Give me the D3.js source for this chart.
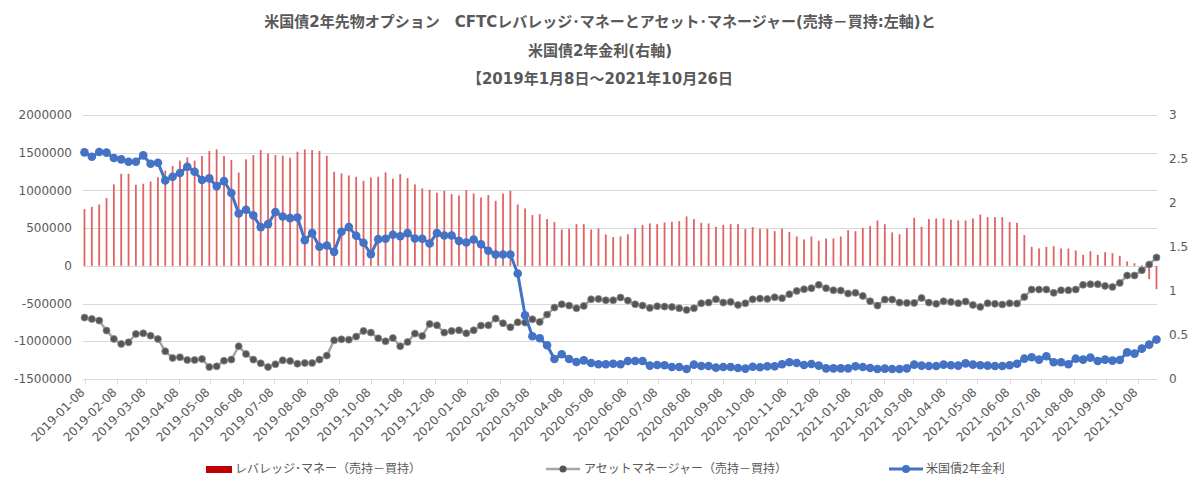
<!DOCTYPE html>
<html>
<head>
<meta charset="utf-8">
<script src="https://cdn.jsdelivr.net/npm/d3@7"></script>
<style>
  body { margin: 0; background: #fff; }
  text { fill: #595959; }
</style>
</head>
<body>
<div id="chart"></div>
<script>
// weekly dates from 2019-01-08 to 2021-10-26 (147 weeks)
const startDate = new Date(2019, 0, 8);
const weekCount = 147;
const dates = d3.range(weekCount).map(i => d3.timeDay.offset(startDate, i * 7));

const tickLabels = [
    '2019-01-08', '2019-02-08', '2019-03-08', '2019-04-08', '2019-05-08', '2019-06-08',
    '2019-07-08', '2019-08-08', '2019-09-08', '2019-10-08', '2019-11-08', '2019-12-08',
    '2020-01-08', '2020-02-08', '2020-03-08', '2020-04-08', '2020-05-08', '2020-06-08',
    '2020-07-08', '2020-08-08', '2020-09-08', '2020-10-08', '2020-11-08', '2020-12-08',
    '2021-01-08', '2021-02-08', '2021-03-08', '2021-04-08', '2021-05-08', '2021-06-08',
    '2021-07-08', '2021-08-08', '2021-09-08', '2021-10-08'
];

// レバレッジ・マネー (売持-買持)
const leveraged = [
    752000, 783000, 814000, 898000, 1080000, 1221000, 1221000, 1075000, 1088000, 1118000,
    1175000, 1263000, 1325000, 1395000, 1439000, 1395000, 1456000, 1522000, 1544000, 1456000,
    1404000, 1237000, 1412000, 1469000, 1535000, 1491000, 1469000, 1461000, 1434000, 1513000,
    1544000, 1535000, 1522000, 1460000, 1248000, 1226000, 1199000, 1181000, 1128000, 1173000,
    1181000, 1239000, 1155000, 1217000, 1164000, 1080000, 1027000, 1009000, 969000, 996000,
    951000, 934000, 1004000, 960000, 907000, 938000, 863000, 960000, 996000, 814000,
    761000, 673000, 686000, 620000, 580000, 482000, 491000, 553000, 553000, 482000,
    496000, 416000, 381000, 389000, 420000, 500000, 544000, 562000, 553000, 575000,
    584000, 593000, 655000, 620000, 571000, 562000, 518000, 544000, 553000, 553000,
    487000, 513000, 491000, 491000, 460000, 496000, 451000, 389000, 350000, 389000,
    332000, 363000, 363000, 389000, 473000, 460000, 504000, 527000, 602000, 553000,
    443000, 420000, 500000, 637000, 518000, 620000, 628000, 628000, 611000, 602000,
    602000, 628000, 681000, 646000, 646000, 646000, 580000, 571000, 407000, 252000,
    230000, 252000, 261000, 230000, 230000, 204000, 146000, 195000, 146000, 181000,
    168000, 133000, 58000, 35000, 10000, -177000, -310000
];

// アセットマネージャー (売持-買持)
const assetManager = [
    -686000, -704000, -726000, -858000, -969000, -1035000, -1013000, -903000, -894000, -925000,
    -969000, -1133000, -1221000, -1212000, -1248000, -1248000, -1235000, -1341000, -1332000, -1257000,
    -1243000, -1066000, -1168000, -1243000, -1292000, -1341000, -1305000, -1252000, -1261000, -1297000,
    -1288000, -1288000, -1243000, -1190000, -987000, -974000, -978000, -938000, -863000, -885000,
    -960000, -1000000, -956000, -1066000, -1009000, -898000, -929000, -770000, -788000, -885000,
    -863000, -854000, -894000, -854000, -792000, -788000, -699000, -761000, -814000, -748000,
    -752000, -708000, -743000, -646000, -553000, -509000, -527000, -562000, -531000, -443000,
    -438000, -456000, -456000, -420000, -460000, -509000, -527000, -558000, -535000, -540000,
    -544000, -562000, -584000, -562000, -496000, -487000, -443000, -487000, -478000, -518000,
    -496000, -443000, -434000, -438000, -416000, -429000, -376000, -332000, -310000, -296000,
    -252000, -296000, -323000, -327000, -367000, -358000, -398000, -469000, -527000, -447000,
    -447000, -487000, -491000, -491000, -425000, -487000, -504000, -469000, -478000, -496000,
    -473000, -518000, -544000, -496000, -504000, -513000, -496000, -500000, -412000, -314000,
    -314000, -314000, -358000, -323000, -323000, -314000, -252000, -243000, -243000, -266000,
    -279000, -226000, -128000, -128000, -58000, 18000, 111000
];

// 米国債2年金利
const yield2y = [
    2.575, 2.526, 2.579, 2.572, 2.511, 2.496, 2.469, 2.469, 2.541, 2.446,
    2.458, 2.257, 2.299, 2.340, 2.412, 2.355, 2.261, 2.280, 2.192, 2.249,
    2.113, 1.881, 1.923, 1.859, 1.726, 1.760, 1.897, 1.847, 1.828, 1.836,
    1.578, 1.658, 1.502, 1.517, 1.445, 1.673, 1.726, 1.627, 1.548, 1.419,
    1.589, 1.593, 1.639, 1.623, 1.658, 1.597, 1.593, 1.540, 1.658, 1.631,
    1.631, 1.570, 1.551, 1.585, 1.532, 1.457, 1.415, 1.415, 1.415, 1.199,
    0.724, 0.485, 0.463, 0.383, 0.228, 0.281, 0.228, 0.193, 0.212, 0.182,
    0.167, 0.167, 0.174, 0.167, 0.205, 0.205, 0.205, 0.152, 0.159, 0.156,
    0.137, 0.137, 0.114, 0.163, 0.148, 0.148, 0.129, 0.137, 0.137, 0.125,
    0.118, 0.140, 0.133, 0.144, 0.144, 0.167, 0.190, 0.182, 0.159, 0.171,
    0.152, 0.121, 0.121, 0.121, 0.121, 0.144, 0.137, 0.125, 0.114, 0.118,
    0.114, 0.114, 0.121, 0.163, 0.152, 0.148, 0.148, 0.163, 0.156, 0.152,
    0.178, 0.163, 0.156, 0.152, 0.148, 0.148, 0.156, 0.174, 0.231, 0.247,
    0.220, 0.258, 0.190, 0.190, 0.167, 0.231, 0.220, 0.243, 0.205, 0.220,
    0.209, 0.216, 0.303, 0.288, 0.345, 0.391, 0.448
];

const leftTicks = [-1500000, -1000000, -500000, 0, 500000, 1000000, 1500000, 2000000];
const rightTicks = [0, 0.5, 1, 1.5, 2, 2.5, 3];

const titleLines = [
    '米国債2年先物オプション　CFTCレバレッジ･マネーとアセット･マネージャー(売持－買持:左軸)と',
    '米国債2年金利(右軸)',
    '【2019年1月8日～2021年10月26日'
];

const width = 1200;
const height = 497;
const plot = { left: 84.5, right: 1156.5, top: 115, bottom: 379 };

const svg = d3.select('#chart').append('svg')
    .attr('width', width)
    .attr('height', height);

// Title
svg.append('g')
    .selectAll('text')
    .data(titleLines)
    .enter()
    .append('text')
    .attr('x', 600)
    .attr('y', (d, i) => 27 + i * 28.5)
    .attr('text-anchor', 'middle')
    .style('font-family', '"DejaVu Sans", "Noto Sans CJK JP", sans-serif')
    .style('font-weight', 'bold')
    .style('font-size', '15px')
    .text(d => d);

// Scales
const x = d3.scaleTime()
    .domain([dates[0], dates[dates.length - 1]])
    .range([plot.left, plot.right]);

const yLeft = d3.scaleLinear()
    .domain([-1500000, 2000000])
    .range([plot.bottom, plot.top]);

const yRight = d3.scaleLinear()
    .domain([0, 3])
    .range([plot.bottom, plot.top]);

// Gridlines
svg.append('g')
    .selectAll('line')
    .data(leftTicks)
    .enter()
    .append('line')
    .attr('x1', 83)
    .attr('x2', 1157)
    .attr('y1', d => Math.round(yLeft(d)) + 0.5)
    .attr('y2', d => Math.round(yLeft(d)) + 0.5)
    .attr('stroke', '#d9d9d9')
    .attr('stroke-width', 1);

// Left axis labels
svg.append('g')
    .selectAll('text')
    .data(leftTicks)
    .enter()
    .append('text')
    .attr('x', 72)
    .attr('y', d => yLeft(d))
    .attr('dy', '0.35em')
    .attr('text-anchor', 'end')
    .style('font-family', '"DejaVu Sans", sans-serif')
    .style('font-size', '12px')
    .text(d => d);

// Right axis labels
svg.append('g')
    .selectAll('text')
    .data(rightTicks)
    .enter()
    .append('text')
    .attr('x', 1169)
    .attr('y', d => yRight(d))
    .attr('dy', '0.35em')
    .attr('text-anchor', 'start')
    .style('font-family', '"DejaVu Sans", sans-serif')
    .style('font-size', '12px')
    .text(d => d);

// X axis ticks and labels
const parseDate = d3.timeParse('%Y-%m-%d');
const xTicks = svg.append('g')
    .selectAll('g')
    .data(tickLabels)
    .enter()
    .append('g')
    .attr('transform', d => `translate(${Math.round(x(parseDate(d))) + 0.5},${plot.bottom})`);

xTicks.append('line')
    .attr('y1', 0)
    .attr('y2', 5)
    .attr('stroke', '#d9d9d9');

xTicks.append('text')
    .attr('transform', 'translate(-3,11) rotate(-45)')
    .attr('text-anchor', 'end')
    .attr('dy', '0.35em')
    .style('font-family', '"DejaVu Sans", sans-serif')
    .style('font-size', '12px')
    .text(d => d);

// Bars (leveraged money)
const barWidth = 1.8;
svg.append('g')
    .selectAll('rect')
    .data(leveraged)
    .enter()
    .append('rect')
    .attr('x', (d, i) => x(dates[i]) - barWidth / 2)
    .attr('y', d => yLeft(Math.max(0, d)))
    .attr('width', barWidth)
    .attr('height', d => Math.abs(yLeft(d) - yLeft(0)))
    .attr('fill', '#e06464');

// Asset manager line
const assetLine = d3.line()
    .x((d, i) => x(dates[i]))
    .y(d => yLeft(d));

svg.append('path')
    .datum(assetManager)
    .attr('d', assetLine)
    .attr('fill', 'none')
    .attr('stroke', '#a5a5a5')
    .attr('stroke-width', 2.5)
    .attr('stroke-linejoin', 'round');

svg.append('g')
    .selectAll('circle')
    .data(assetManager)
    .enter()
    .append('circle')
    .attr('cx', (d, i) => x(dates[i]))
    .attr('cy', d => yLeft(d))
    .attr('r', 3.5)
    .attr('fill', '#555555')
    .attr('stroke', '#8c8c8c')
    .attr('stroke-width', 0.8);

// Yield line (right axis)
const yieldLine = d3.line()
    .x((d, i) => x(dates[i]))
    .y(d => yRight(d));

svg.append('path')
    .datum(yield2y)
    .attr('d', yieldLine)
    .attr('fill', 'none')
    .attr('stroke', '#4472c4')
    .attr('stroke-width', 3)
    .attr('stroke-linejoin', 'round');

svg.append('g')
    .selectAll('circle')
    .data(yield2y)
    .enter()
    .append('circle')
    .attr('cx', (d, i) => x(dates[i]))
    .attr('cy', d => yRight(d))
    .attr('r', 4.3)
    .attr('fill', '#4472c4');

// Legend
const legendY = 469;
const legend = svg.append('g').style('font-family', '"Noto Sans CJK JP", sans-serif').style('font-size', '12px');

legend.append('rect')
    .attr('x', 206)
    .attr('y', legendY - 3)
    .attr('width', 26)
    .attr('height', 7)
    .attr('fill', '#c00000');
legend.append('text')
    .attr('x', 235)
    .attr('y', legendY)
    .attr('dy', '0.35em')
    .text('レバレッジ･マネー（売持－買持）');

legend.append('line')
    .attr('x1', 546).attr('x2', 580)
    .attr('y1', legendY).attr('y2', legendY)
    .attr('stroke', '#a5a5a5')
    .attr('stroke-width', 2.5);
legend.append('circle')
    .attr('cx', 563).attr('cy', legendY).attr('r', 3.5)
    .attr('fill', '#555555');
legend.append('text')
    .attr('x', 584)
    .attr('y', legendY)
    .attr('dy', '0.35em')
    .text('アセットマネージャー（売持－買持）');

legend.append('line')
    .attr('x1', 889).attr('x2', 923)
    .attr('y1', legendY).attr('y2', legendY)
    .attr('stroke', '#4472c4')
    .attr('stroke-width', 3);
legend.append('circle')
    .attr('cx', 906).attr('cy', legendY).attr('r', 4)
    .attr('fill', '#4472c4');
legend.append('text')
    .attr('x', 926)
    .attr('y', legendY)
    .attr('dy', '0.35em')
    .text('米国債2年金利');
</script>
</body>
</html>
